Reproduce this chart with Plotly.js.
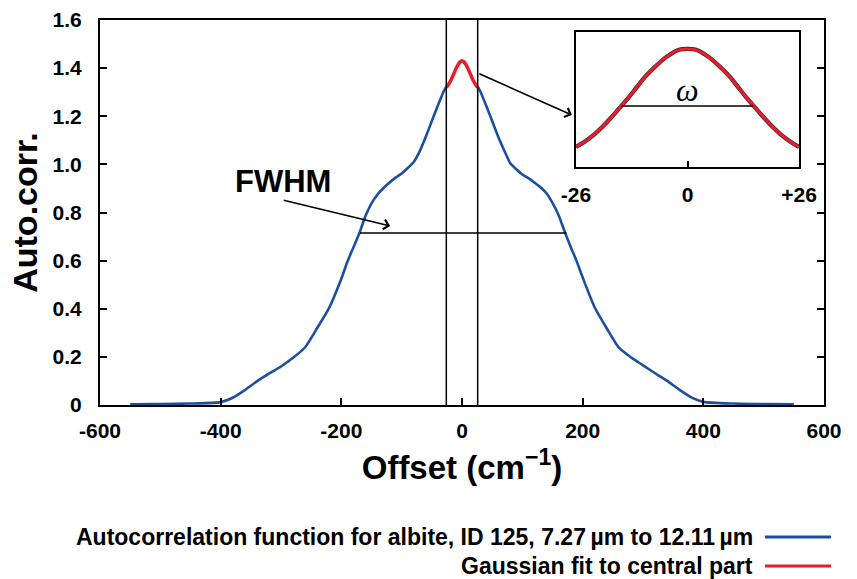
<!DOCTYPE html>
<html>
<head>
<meta charset="utf-8">
<script src="https://cdn.plot.ly/plotly-3.0.1.min.js"></script>
<style>
  html, body { margin: 0; padding: 0; background: #ffffff; }
  #chart { width: 857px; height: 579px; }
</style>
</head>
<body>
<div id="chart"></div>
<script>
// Autocorrelation of the albite spectrum (offset in cm^-1)
const offsetX = [-550, -500, -450, -400, -380, -360, -340, -320, -300, -280, -260, -240, -220, -200,
  -190, -180, -170, -160, -150, -140, -130, -120, -110, -100, -90, -80, -70, -60, -50, -40, -30, -26,
  -20, -10, 0, 10, 20,
  26, 30, 40, 50, 60, 70, 80, 90, 100, 110, 120, 130, 140, 150, 160, 170, 180, 190,
  200, 220, 240, 260, 280, 300, 320, 340, 360, 380, 400, 450, 500, 550];
const autoCorr = [0.003, 0.004, 0.006, 0.012, 0.030, 0.062, 0.098, 0.130, 0.160, 0.196, 0.240, 0.320, 0.405, 0.525,
  0.595, 0.655, 0.715, 0.785, 0.838, 0.875, 0.902, 0.925, 0.945, 0.962, 0.985, 1.010, 1.055, 1.115, 1.180, 1.245, 1.305, 1.323,
  1.342, 1.398, 1.430, 1.398, 1.342,
  1.323, 1.305, 1.245, 1.180, 1.115, 1.058, 1.005, 0.980, 0.958, 0.943, 0.925, 0.905, 0.880, 0.840, 0.790, 0.722, 0.658, 0.598,
  0.530, 0.405, 0.318, 0.238, 0.198, 0.165, 0.132, 0.100, 0.064, 0.032, 0.013, 0.006, 0.004, 0.003];

// Gaussian fit over the central part (-26 .. +26 cm^-1)
const fitX = [-26, -24, -22, -20, -18, -16, -14, -12, -10, -8, -6, -4, -2, 0,
  2, 4, 6, 8, 10, 12, 14, 16, 18, 20, 22, 24, 26];
const fitY = [1.320, 1.326, 1.333, 1.342, 1.352, 1.363, 1.374, 1.386, 1.398, 1.408, 1.417, 1.424, 1.429, 1.430,
  1.429, 1.424, 1.417, 1.408, 1.398, 1.386, 1.374, 1.363, 1.352, 1.342, 1.333, 1.326, 1.320];

// Guide lines: central window, full width at half maximum, fit width
const windowEdges = [-26, 26];
const fwhmX = [-169, 173];
const fwhmLevel = 0.715;
const omegaX = [-15.4, 15.3];
const omegaLevel = 1.366;

const yTicks = [0, 0.2, 0.4, 0.6, 0.8, 1.0, 1.2, 1.4, 1.6];
const yTickText = ['0', '0.2', '0.4', '0.6', '0.8', '1.0', '1.2', '1.4', '1.6'];
const xTicks = [-600, -400, -200, 0, 200, 400, 600];
const xTickText = ['-600', '-400', '-200', '0', '200', '400', '600'];
const insetTicks = [-26, 0, 26];
const insetTickText = ['-26', '0', '+26'];

const seriesNames = ['Autocorrelation function for albite, ID 125, 7.27\u2009\u00b5m to 12.11\u2009\u00b5m',
  'Gaussian fit to central part'];

const BLUE = '#1c4f9c';
const RED = '#ee1c25';
const FONT = 'Liberation Sans, Arial, sans-serif';

const traces = [
  { x: offsetX, y: autoCorr, mode: 'lines', line: { color: BLUE, width: 2.6, shape: 'spline', smoothing: 0.6 }, xaxis: 'x', yaxis: 'y' },
  { x: fitX, y: fitY, mode: 'lines', line: { color: RED, width: 3.4, shape: 'spline' }, xaxis: 'x', yaxis: 'y' },
  { x: [windowEdges[0], windowEdges[0]], y: [0, 1.6], mode: 'lines', line: { color: '#000', width: 1.5 }, xaxis: 'x', yaxis: 'y' },
  { x: [windowEdges[1], windowEdges[1]], y: [0, 1.6], mode: 'lines', line: { color: '#000', width: 1.5 }, xaxis: 'x', yaxis: 'y' },
  { x: fwhmX, y: [fwhmLevel, fwhmLevel], mode: 'lines', line: { color: '#000', width: 1.5 }, xaxis: 'x', yaxis: 'y' },
  // inset: zoom on the central part
  { x: fitX, y: fitY, mode: 'lines', line: { color: '#1a2340', width: 4.2, shape: 'spline' }, xaxis: 'x2', yaxis: 'y2' },
  { x: fitX, y: fitY, mode: 'lines', line: { color: RED, width: 3, shape: 'spline' }, xaxis: 'x2', yaxis: 'y2' },
  { x: omegaX, y: [omegaLevel, omegaLevel], mode: 'lines', line: { color: '#000', width: 1.5 }, xaxis: 'x2', yaxis: 'y2' }
];

const W = 857, H = 579, L = 100, R = 33, T = 20, B = 174;
const pw = W - L - R, ph = H - T - B;
const px = v => (v - L) / pw;          // page pixel -> paper x
const py = v => (H - B - v) / ph;      // page pixel -> paper y

const layout = {
  width: W, height: H,
  margin: { l: L, r: R, t: T, b: B },
  paper_bgcolor: '#fff', plot_bgcolor: '#fff',
  showlegend: false,
  xaxis: {
    range: [-600, 600], tickvals: xTicks, ticktext: xTickText, ticks: 'inside', ticklen: 7, tickwidth: 2, tickcolor: '#000',
    showline: true, linewidth: 2, linecolor: '#000', mirror: true, showgrid: false, zeroline: false,
    ticklabelstandoff: 6,
    tickfont: { family: FONT, size: 21, color: '#000', weight: 'bold' },
    title: { text: 'Offset (cm<sup>\u22121</sup>)', font: { family: FONT, size: 33, color: '#000', weight: 'bold' }, standoff: 15 }
  },
  yaxis: {
    range: [0, 1.6], tickvals: yTicks, ticktext: yTickText, ticks: 'inside', ticklen: 7, tickwidth: 2, tickcolor: '#000',
    showline: true, linewidth: 2, linecolor: '#000', mirror: 'ticks', showgrid: false, zeroline: false,
    ticklabelstandoff: 12,
    tickfont: { family: FONT, size: 21, color: '#000', weight: 'bold' },
    title: { text: 'Auto.corr.', font: { family: FONT, size: 34, color: '#000', weight: 'bold' }, standoff: 5 }
  },
  xaxis2: {
    domain: [px(576), px(799)], anchor: 'y2', range: [-26, 26],
    tickvals: insetTicks, ticktext: insetTickText, ticks: 'inside', ticklen: 6, tickwidth: 2, tickcolor: '#000',
    showline: true, linewidth: 2, linecolor: '#000', mirror: true, showgrid: false, zeroline: false,
    ticklabelstandoff: 8,
    tickfont: { family: FONT, size: 21, color: '#000', weight: 'bold' }
  },
  yaxis2: {
    domain: [py(167), py(32)], anchor: 'x2', range: [1.2976, 1.449],
    showticklabels: false, ticks: '', showline: true, linewidth: 2, linecolor: '#000', mirror: true,
    showgrid: false, zeroline: false
  },
  annotations: [
    { xref: 'x', yref: 'y', x: -297, y: 0.928, text: 'FWHM', showarrow: false,
      font: { family: FONT, size: 31, color: '#000', weight: 'bold' } },
    { xref: 'x', yref: 'y', x: -119, y: 0.744, axref: 'pixel', ayref: 'pixel', ax: -108, ay: -26,
      showarrow: true, arrowhead: 4, arrowsize: 1.2, arrowwidth: 1.6, arrowcolor: '#000', text: '' },
    { xref: 'x', yref: 'y', x: 182, y: 1.205, axref: 'pixel', ayref: 'pixel', ax: -94, ay: -42,
      showarrow: true, arrowhead: 4, arrowsize: 1.2, arrowwidth: 1.6, arrowcolor: '#000', text: '' },
    { xref: 'x2', yref: 'y2', x: 0, y: 1.384, text: '<i>\u03c9</i>', showarrow: false,
      font: { family: 'Liberation Serif, DejaVu Serif, serif', size: 32, color: '#000' } },
    { xref: 'paper', yref: 'paper', x: px(755), y: py(537), xanchor: 'right', yanchor: 'middle',
      text: seriesNames[0], showarrow: false, font: { family: FONT, size: 23, color: '#000', weight: 'bold' } },
    { xref: 'paper', yref: 'paper', x: px(755), y: py(566), xanchor: 'right', yanchor: 'middle',
      text: seriesNames[1], showarrow: false, font: { family: FONT, size: 23, color: '#000', weight: 'bold' } }
  ],
  shapes: [
    { type: 'line', xref: 'paper', yref: 'paper', x0: px(765), x1: px(831), y0: py(537), y1: py(537), line: { color: BLUE, width: 3 } },
    { type: 'line', xref: 'paper', yref: 'paper', x0: px(765), x1: px(831), y0: py(566), y1: py(566), line: { color: RED, width: 3 } }
  ]
};

Plotly.newPlot('chart', traces, layout, { staticPlot: true, displayModeBar: false });
</script>
</body>
</html>
